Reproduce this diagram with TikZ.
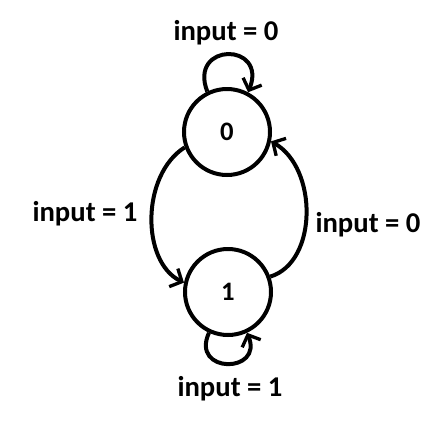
\documentclass[tikz,border=0pt]{standalone}
\usepackage{fontspec}
\setmainfont{Carlito}
\usetikzlibrary{arrows.meta}
\begin{document}
\begin{tikzpicture}[x=0.75pt,y=-0.75pt,
  state/.style={circle,draw,line width=3pt,minimum size=64.5pt,inner sep=0pt,font=\fontsize{20}{24}\selectfont\bfseries},
  lbl/.style={font=\fontsize{21.5}{24}\selectfont\bfseries,inner sep=0pt},
  conn/.style={line width=3pt,-{Straight Barb[length=7pt,width=15pt,line width=2.5pt]}}]
\useasboundingbox (0,0) rectangle (447,436);
\node[state] (s0) at (227,132) {0};
\node[state] (s1) at (228,292) {1};
\node[lbl] (l0) at (226,33) {input = 0};
\node[lbl] (l1) at (85,214) {input = 1};
\node[lbl] (l2) at (368,225) {input = 0};
\node[lbl] (l3) at (230,389) {input = 1};
\draw[conn] (s0.116) .. controls (188,42) and (268,42) .. (s0.62);
\draw[conn] (s1.245) .. controls (190,374) and (264,374) .. (s1.295);
\draw[conn] (s0.200) .. controls (141,175) and (141,262) .. (s1.168);
\draw[conn] (s1.20) .. controls (318,262) and (318,168) .. (s0.-12);
\end{tikzpicture}
\end{document}
